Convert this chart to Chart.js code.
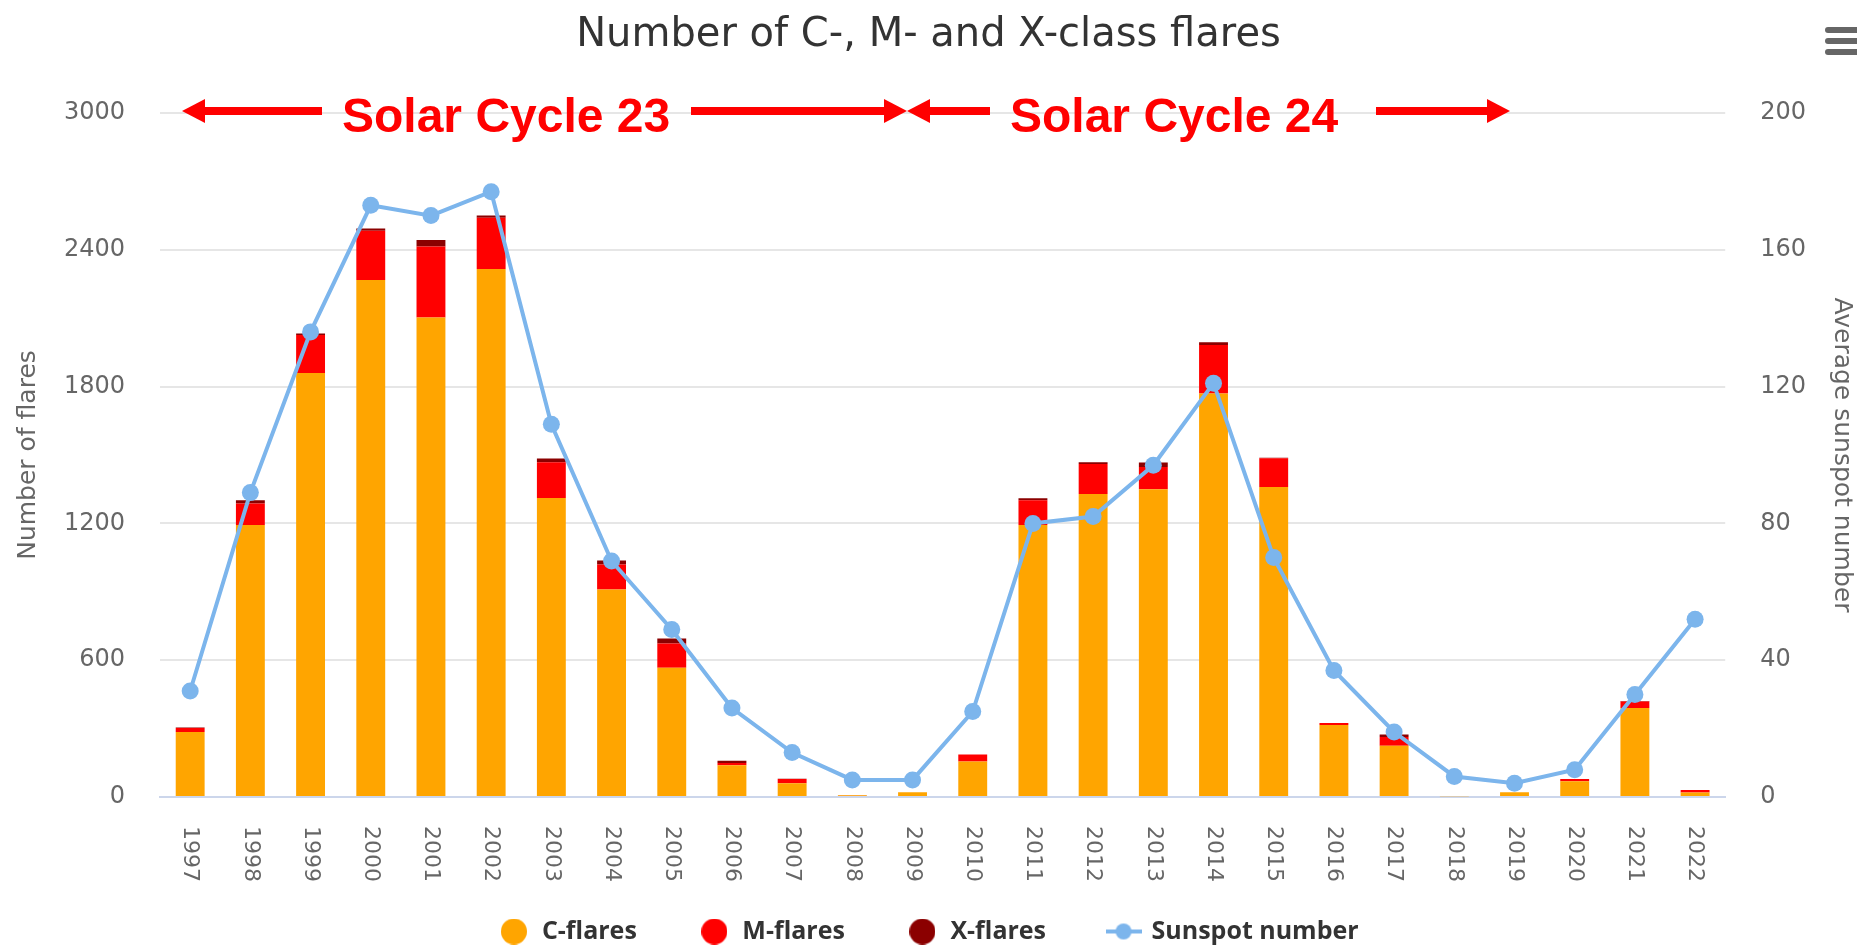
<!DOCTYPE html>
<html>
<head>
<meta charset="utf-8">
<script src="https://cdn.jsdelivr.net/npm/chart.js@4.4.1/dist/chart.umd.min.js"></script>
<style>
  html, body { margin: 0; padding: 0; background: #fff; }
  #wrap { width: 1857px; height: 948px; }
</style>
</head>
<body>
<div id="wrap"><canvas id="flaresChart"></canvas></div>
<script>
// Yearly flare counts and average sunspot number
const years = ['1997', '1998', '1999', '2000', '2001', '2002', '2003', '2004', '2005', '2006', '2007', '2008', '2009',
               '2010', '2011', '2012', '2013', '2014', '2015', '2016', '2017', '2018', '2019', '2020', '2021', '2022'];
const cFlares = [285, 1193, 1860, 2267, 2103, 2316, 1311, 910, 567, 139, 60, 8, 21,
                 156, 1193, 1329, 1350, 1770, 1360, 316, 225, 3, 21, 69, 390, 20];
const mFlares = [18, 94, 166, 217, 312, 225, 157, 110, 106, 10, 19, 1, 0,
                 30, 108, 131, 97, 213, 126, 9, 38, 0, 0, 10, 29, 11];
const xFlares = [2, 14, 7, 9, 28, 9, 17, 17, 22, 10, 1, 0, 0,
                 0, 9, 8, 20, 12, 2, 0, 11, 0, 0, 0, 2, 0];
const sunspots = [31, 89, 136, 173, 170, 177, 109, 69, 49, 26, 13, 5, 5,
                  25, 80, 82, 97, 121, 70, 37, 19, 6, 4, 8, 30, 52];
const flareTicks = [0, 600, 1200, 1800, 2400, 3000];
const sunspotTicks = [0, 40, 80, 120, 160, 200];

const colors = ['#FFA500', '#FF0000', '#8B0000', '#7CB5EC'];

// legend symbols
function dot(color) {
    const c = document.createElement('canvas');
    c.width = 26; c.height = 26;
    const g = c.getContext('2d');
    g.fillStyle = color;
    g.beginPath(); g.arc(13, 13, 13, 0, Math.PI * 2); g.fill();
    return c;
}
function lineDot(color) {
    const c = document.createElement('canvas');
    c.width = 36; c.height = 20;
    const g = c.getContext('2d');
    g.fillStyle = color;
    g.fillRect(0, 8, 36, 4);
    g.beginPath(); g.arc(18, 10, 8, 0, Math.PI * 2); g.fill();
    return c;
}
const symbols = [dot(colors[0]), dot(colors[1]), dot(colors[2]), lineDot(colors[3])];

function arrow(ctx, from, tip, y) {
    const dir = Math.sign(tip - from);
    const head = 23;
    const base = tip - dir * head;
    ctx.fillRect(Math.min(from, base), y - 4, Math.abs(base - from), 8);
    ctx.beginPath();
    ctx.moveTo(tip, y);
    ctx.lineTo(base, y - 12);
    ctx.lineTo(base, y + 12);
    ctx.closePath();
    ctx.fill();
}

const extras = {
    id: 'extras',
    afterDraw(chart) {
        const ctx = chart.ctx;
        const x = chart.scales.x;
        ctx.save();
        // year labels, rotated to read downward
        ctx.fillStyle = '#666';
        ctx.font = '22px "DejaVu Sans"';
        ctx.textAlign = 'left';
        ctx.textBaseline = 'middle';
        years.forEach((yr, i) => {
            ctx.save();
            ctx.translate(x.getPixelForTick(i), x.top + 29);
            ctx.rotate(Math.PI / 2);
            ctx.fillText(yr, 0, 0);
            ctx.restore();
        });

        // solar cycle annotations
        ctx.fillStyle = '#FF0000';
        arrow(ctx, 322, 182, 111);
        arrow(ctx, 691, 907, 111);
        arrow(ctx, 990, 907, 111);
        arrow(ctx, 1376, 1510, 111);
        ctx.font = 'bold 48px "Liberation Sans", Arial, sans-serif';
        ctx.textBaseline = 'alphabetic';
        ctx.fillText('Solar Cycle 23', 342, 132);
        ctx.fillText('Solar Cycle 24', 1010, 132);

        // menu icon
        ctx.strokeStyle = '#666';
        ctx.lineWidth = 6;
        ctx.lineCap = 'round';
        [30, 41, 52].forEach(yy => {
            ctx.beginPath(); ctx.moveTo(1828, yy); ctx.lineTo(1862, yy); ctx.stroke();
        });
        ctx.restore();
    }
};

const tickFont = { family: 'DejaVu Sans', size: 24 };
const axisTitleFont = { family: 'DejaVu Sans', size: 25 };

const flaresCtx = document.getElementById('flaresChart').getContext('2d');
const flaresChart = new Chart(flaresCtx, {
    type: 'bar',
    data: {
        labels: years,
        datasets: [{
            label: 'C-flares',
            data: cFlares,
            backgroundColor: colors[0],
            order: 1
        }, {
            label: 'M-flares',
            data: mFlares,
            backgroundColor: colors[1],
            order: 1
        }, {
            label: 'X-flares',
            data: xFlares,
            backgroundColor: colors[2],
            order: 1
        }, {
            type: 'line',
            label: 'Sunspot number',
            data: sunspots,
            yAxisID: 'y2',
            borderColor: colors[3],
            backgroundColor: colors[3],
            borderWidth: 4,
            pointRadius: 8.5,
            pointBorderWidth: 0,
            tension: 0,
            order: 0
        }]
    },
    options: {
        responsive: true,
        maintainAspectRatio: false,
        animation: false,
        datasets: {
            bar: { barPercentage: 0.48, categoryPercentage: 1, borderWidth: 0 }
        },
        layout: { padding: { top: 0, left: 0, right: 0, bottom: -6 } },
        plugins: {
            title: {
                display: true,
                text: 'Number of C-, M- and X-class flares',
                color: '#333',
                font: { family: 'DejaVu Sans', size: 40, weight: 'normal' },
                padding: { top: 12, bottom: 53 }
            },
            legend: {
                position: 'bottom',
                labels: {
                    usePointStyle: true,
                    pointStyleWidth: 31,
                    padding: 62,
                    color: '#333',
                    font: { family: 'Open Sans', size: 25, weight: 'bold' },
                    sort: (a, b) => a.datasetIndex - b.datasetIndex,
                    generateLabels(chart) {
                        const items = Chart.defaults.plugins.legend.labels.generateLabels(chart);
                        items.forEach(it => { it.pointStyle = symbols[it.datasetIndex]; });
                        return items;
                    }
                }
            },
            tooltip: { enabled: false }
        },
        scales: {
            x: {
                stacked: true,
                grid: { display: false, drawTicks: false },
                border: { color: '#ccd6eb', width: 2 },
                ticks: { display: false },
                afterFit(scale) { scale.height = 60; }
            },
            y: {
                stacked: true,
                min: flareTicks[0],
                max: flareTicks[flareTicks.length - 1],
                afterBuildTicks(scale) { scale.ticks = flareTicks.map(v => ({ value: v })); },
                ticks: { padding: 35, color: '#666', font: tickFont, callback: v => String(v) },
                grid: { color: '#e6e6e6', lineWidth: 2, drawTicks: false },
                border: { display: false },
                title: {
                    display: true,
                    text: 'Number of flares',
                    color: '#666',
                    font: axisTitleFont,
                    padding: { top: 13, bottom: -14 }
                }
            },
            y2: {
                position: 'right',
                min: sunspotTicks[0],
                max: sunspotTicks[sunspotTicks.length - 1],
                afterBuildTicks(scale) { scale.ticks = sunspotTicks.map(v => ({ value: v })); },
                ticks: { padding: 35, color: '#666', font: tickFont, callback: v => String(v) },
                grid: { drawOnChartArea: false, drawTicks: false },
                border: { display: false },
                title: {
                    display: true,
                    text: 'Average sunspot number',
                    color: '#666',
                    font: axisTitleFont,
                    padding: { top: 1, bottom: -15 }
                }
            }
        }
    },
    plugins: [extras]
});
</script>
</body>
</html>
